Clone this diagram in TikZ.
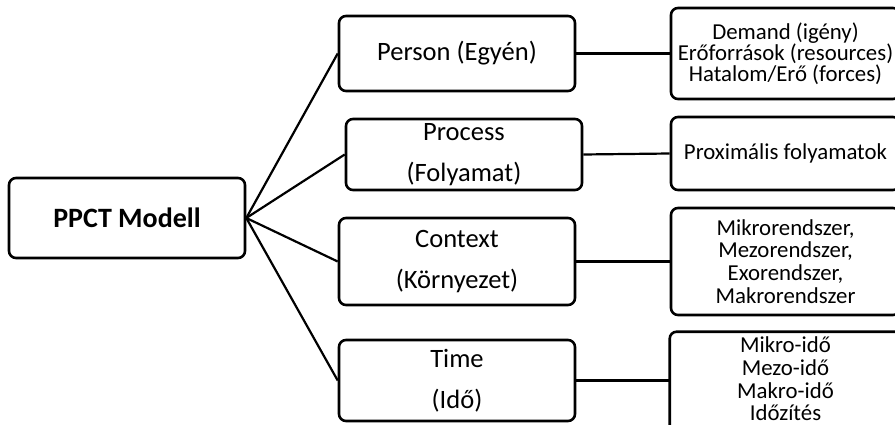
\documentclass[tikz,border=0pt]{standalone}
\usepackage{fontspec}
\setmainfont{Carlito}
\begin{document}
\begin{tikzpicture}[x=1pt,y=-1pt,
  boxline/.style={draw, line width=2.6pt, rounded corners=7pt},
  box/.style={boxline, inner sep=0pt, align=center, text=black},
  mid/.style={box, minimum width=236pt, font=\fontsize{26.5}{41}\selectfont},
  leaf/.style={box, minimum width=229pt, font=\fontsize{22.8}{22.7}\selectfont},
  link/.style={line width=2.2pt}]
\useasboundingbox (0,0) rectangle (895,425);
\clip (0,0) rectangle (895,425);
% root
\node[box, minimum width=236pt, minimum height=80pt, font=\fontsize{28}{32}\selectfont\bfseries] (model) at (127,218) {PPCT Modell};
% middle column
\node[mid, minimum height=75pt] (person) at (457,53.5) {Person (Egyén)};
\node[mid, minimum height=71pt] (process) at (464,154.5) {Process\\(Folyamat)};
\node[mid, minimum height=87pt] (context) at (457,261.5) {Context\\(Környezet)};
\node[mid, minimum height=81pt] (time) at (457,380.5) {Time\\(Idő)};
% right column
\node[leaf, minimum height=91pt, font=\fontsize{22.8}{18.5}\selectfont] (demand) at (785.5,53.5) {Demand (igény)\\Erőforrások (resources)\\Hatalom/Erő (forces)};
\node[leaf, minimum height=73pt] (prox) at (785.5,153.5) {Proximális folyamatok};
\node[leaf, minimum height=107pt] (mikro) at (785.5,261.5) {Mikrorendszer,\\Mezorendszer,\\Exorendszer,\\Makrorendszer};
\node[leaf, draw=none, minimum height=92pt] (ido) at (785.5,379) {Mikro-idő\\Mezo-idő\\Makro-idő\\Időzítés};
\draw[boxline] (ido.north west) rectangle ([yshift=-107pt]ido.north east);
% connectors
\draw[link] (model.east) -- (person.west);
\draw[link] (model.east) -- (process.west);
\draw[link] (model.east) -- (context.west);
\draw[link] (model.east) -- (time.west);
\draw[link] (person.east) -- (demand.west);
\draw[link] (process.east) -- (prox.west);
\draw[link] (context.east) -- (mikro.west);
\draw[link] (time.east) -- (time.east -| ido.west);
\end{tikzpicture}
\end{document}
